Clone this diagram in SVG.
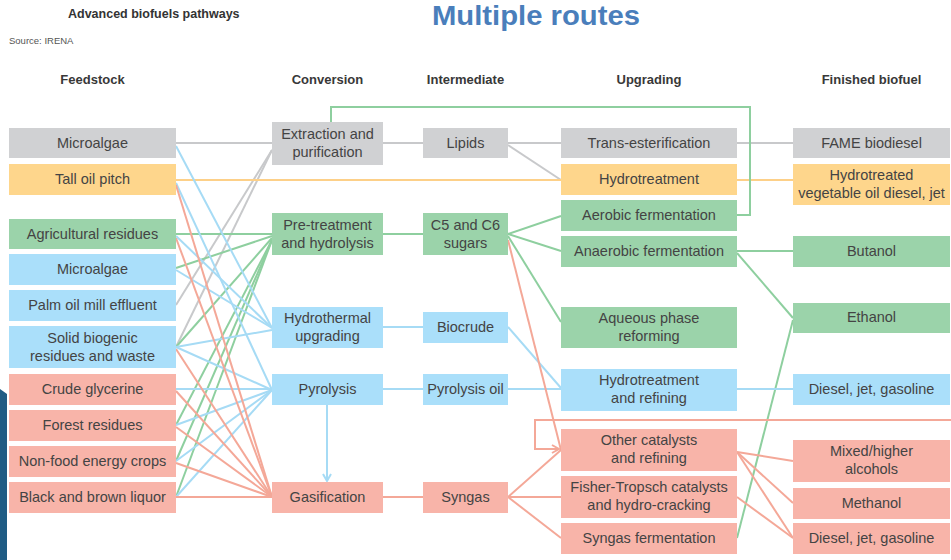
<svg xmlns="http://www.w3.org/2000/svg" width="951" height="560" viewBox="0 0 951 560">
<defs>
<style>
.bg{fill:#ffffff}
.g{fill:#d0d1d3}.o{fill:#fed68c}.n{fill:#9bd3aa}.b{fill:#aadffa}.p{fill:#f8b4a9}
.t{font-family:"Liberation Sans",Arial,sans-serif;font-size:14.5px;fill:#444444;text-anchor:middle}
.h{font-family:"Liberation Sans",Arial,sans-serif;font-size:13px;font-weight:bold;fill:#383838;text-anchor:middle}
#connectors path{fill:none;stroke-width:2}
.cg{stroke:#c8c9cb}.co{stroke:#fdd088}.cn{stroke:#8ecf9f}.cb{stroke:#a6dbf5}.cp{stroke:#f4a898}
</style>
<marker id="ab" markerWidth="10" markerHeight="10" refX="8" refY="5" orient="auto" markerUnits="userSpaceOnUse">
<path d="M1,1 L8,5 L1,9" fill="none" stroke="#a6dbf5" stroke-width="2"/>
</marker>
<marker id="ap" markerWidth="10" markerHeight="10" refX="8" refY="5" orient="auto" markerUnits="userSpaceOnUse">
<path d="M1,1 L8,5 L1,9" fill="none" stroke="#f4a898" stroke-width="2"/>
</marker>
</defs>
<rect class="bg" x="0" y="0" width="951" height="560"/>
<path d="M0,389 L7,394 V560 H0 Z" fill="#1f5c84"/>
<text x="68" y="18" style="font-family:'Liberation Sans',Arial,sans-serif;font-size:12.5px;font-weight:bold;fill:#333">Advanced biofuels pathways</text>
<text x="9" y="44" style="font-family:'Liberation Sans',Arial,sans-serif;font-size:9.5px;fill:#555">Source: IRENA</text>
<text x="432" y="25" textLength="208" lengthAdjust="spacingAndGlyphs" style="font-family:'Liberation Sans',Arial,sans-serif;font-size:27px;font-weight:bold;fill:#4a7ebb">Multiple routes</text>
<g id="headers">
<text class="h" x="92.5" y="84">Feedstock</text>
<text class="h" x="327.5" y="84">Conversion</text>
<text class="h" x="465.5" y="84">Intermediate</text>
<text class="h" x="649" y="84">Upgrading</text>
<text class="h" x="871.5" y="84">Finished biofuel</text>
</g>
<g id="connectors">
<path class="cg" d="M176,143 H272"/>
<path class="cg" d="M176,305 L272,150"/>
<path class="cg" d="M176,347 L272,150"/>
<path class="cg" d="M383,143 H423"/>
<path class="cg" d="M508,143 H561"/>
<path class="cg" d="M508,145 L561,180"/>
<path class="cg" d="M737,143 H793"/>
<path class="co" d="M176,180 H561"/>
<path class="co" d="M737,180 H793"/>
<path class="cn" d="M176,234 H272"/>
<path class="cn" d="M176,268 L272,236"/>
<path class="cn" d="M176,347 L272,238"/>
<path class="cn" d="M176,425 L272,240"/>
<path class="cn" d="M176,461 L272,240"/>
<path class="cn" d="M176,497 L272,240"/>
<path class="cn" d="M383,234 H423"/>
<path class="cn" d="M508,234 L561,216"/>
<path class="cn" d="M508,234 L561,251"/>
<path class="cn" d="M508,236 L561,322"/>
<path class="cn" d="M737,251 H793"/>
<path class="cn" d="M737,253 L793,318"/>
<path class="cn" d="M737,538 L793,320"/>
<path class="cn" d="M737,215 H750 V107 H331 V122"/>
<path class="cb" d="M176,146 L272,328"/>
<path class="cb" d="M176,183 L272,390"/>
<path class="cb" d="M176,236 L272,328"/>
<path class="cb" d="M176,270 L272,328"/>
<path class="cb" d="M176,347 L272,330"/>
<path class="cb" d="M176,347 L272,390"/>
<path class="cb" d="M176,389 H272"/>
<path class="cb" d="M176,425 L272,390"/>
<path class="cb" d="M176,461 L272,390"/>
<path class="cb" d="M176,497 L272,390"/>
<path class="cb" d="M383,327 H423"/>
<path class="cb" d="M383,389 H423"/>
<path class="cb" d="M327,405 V481" marker-end="url(#ab)"/>
<path class="cb" d="M508,327 L561,388"/>
<path class="cb" d="M508,389 H561"/>
<path class="cb" d="M737,389 H793"/>
<path class="cp" d="M176,185 L272,497"/>
<path class="cp" d="M176,238 L272,497"/>
<path class="cp" d="M176,349 L272,497"/>
<path class="cp" d="M176,391 L272,497"/>
<path class="cp" d="M176,427 L272,497"/>
<path class="cp" d="M176,463 L272,497"/>
<path class="cp" d="M176,497 H272"/>
<path class="cp" d="M383,497 H423"/>
<path class="cp" d="M508,240 L561,450"/>
<path class="cp" d="M508,497 L561,450"/>
<path class="cp" d="M508,497 H561"/>
<path class="cp" d="M508,497 L561,538"/>
<path class="cp" d="M951,420 H535 V449 H559" marker-end="url(#ap)"/>
<path class="cp" d="M737,452 L793,461"/>
<path class="cp" d="M737,452 L793,503"/>
<path class="cp" d="M737,452 L793,538"/>
<path class="cp" d="M737,497 L793,538"/>
</g>
<g id="f-microalgae-g"><rect class="g" x="9" y="128" width="167" height="30"/><text class="t" x="92.5" y="148">Microalgae</text></g>
<g id="f-talloil"><rect class="o" x="9" y="164" width="167" height="31"/><text class="t" x="92.5" y="184">Tall oil pitch</text></g>
<g id="f-agri"><rect class="n" x="9" y="219" width="167" height="30"/><text class="t" x="92.5" y="239">Agricultural residues</text></g>
<g id="f-microalgae-b"><rect class="b" x="9" y="254" width="167" height="31"/><text class="t" x="92.5" y="274">Microalgae</text></g>
<g id="f-palm"><rect class="b" x="9" y="290" width="167" height="31"/><text class="t" x="92.5" y="310">Palm oil mill effluent</text></g>
<g id="f-solid"><rect class="b" x="9" y="326" width="167" height="42"/><text class="t" x="92.5" y="343">Solid biogenic</text><text class="t" x="92.5" y="361">residues and waste</text></g>
<g id="f-glycerine"><rect class="p" x="9" y="374" width="167" height="31"/><text class="t" x="92.5" y="394">Crude glycerine</text></g>
<g id="f-forest"><rect class="p" x="9" y="410" width="167" height="31"/><text class="t" x="92.5" y="430">Forest residues</text></g>
<g id="f-nonfood"><rect class="p" x="9" y="446" width="167" height="31"/><text class="t" x="92.5" y="466">Non-food energy crops</text></g>
<g id="f-liquor"><rect class="p" x="9" y="482" width="167" height="31"/><text class="t" x="92.5" y="502">Black and brown liquor</text></g>
<g id="c-extraction"><rect class="g" x="272" y="122" width="111" height="43"/><text class="t" x="327.5" y="139">Extraction and</text><text class="t" x="327.5" y="157">purification</text></g>
<g id="c-pretreatment"><rect class="n" x="272" y="213" width="111" height="42"/><text class="t" x="327.5" y="230">Pre-treatment</text><text class="t" x="327.5" y="248">and hydrolysis</text></g>
<g id="c-hydrothermal"><rect class="b" x="272" y="307" width="111" height="41"/><text class="t" x="327.5" y="323">Hydrothermal</text><text class="t" x="327.5" y="341">upgrading</text></g>
<g id="c-pyrolysis"><rect class="b" x="272" y="374" width="111" height="31"/><text class="t" x="327.5" y="394">Pyrolysis</text></g>
<g id="c-gasification"><rect class="p" x="272" y="482" width="111" height="31"/><text class="t" x="327.5" y="502">Gasification</text></g>
<g id="i-lipids"><rect class="g" x="423" y="128" width="85" height="30"/><text class="t" x="465.5" y="148">Lipids</text></g>
<g id="i-sugars"><rect class="n" x="423" y="213" width="85" height="42"/><text class="t" x="465.5" y="230">C5 and C6</text><text class="t" x="465.5" y="248">sugars</text></g>
<g id="i-biocrude"><rect class="b" x="423" y="312" width="85" height="31"/><text class="t" x="465.5" y="332">Biocrude</text></g>
<g id="i-pyrolysisoil"><rect class="b" x="423" y="374" width="85" height="31"/><text class="t" x="465.5" y="394">Pyrolysis oil</text></g>
<g id="i-syngas"><rect class="p" x="423" y="482" width="85" height="31"/><text class="t" x="465.5" y="502">Syngas</text></g>
<g id="u-trans"><rect class="g" x="561" y="128" width="176" height="30"/><text class="t" x="649" y="148">Trans-esterification</text></g>
<g id="u-hydrotreatment"><rect class="o" x="561" y="164" width="176" height="31"/><text class="t" x="649" y="184">Hydrotreatment</text></g>
<g id="u-aerobic"><rect class="n" x="561" y="200" width="176" height="31"/><text class="t" x="649" y="220">Aerobic fermentation</text></g>
<g id="u-anaerobic"><rect class="n" x="561" y="236" width="176" height="31"/><text class="t" x="649" y="256">Anaerobic fermentation</text></g>
<g id="u-aqueous"><rect class="n" x="561" y="307" width="176" height="41"/><text class="t" x="649" y="323">Aqueous phase</text><text class="t" x="649" y="341">reforming</text></g>
<g id="u-hydrorefining"><rect class="b" x="561" y="369" width="176" height="42"/><text class="t" x="649" y="385">Hydrotreatment</text><text class="t" x="649" y="403">and refining</text></g>
<g id="u-othercat"><rect class="p" x="561" y="429" width="176" height="42"/><text class="t" x="649" y="445">Other catalysts</text><text class="t" x="649" y="463">and refining</text></g>
<g id="u-ft"><rect class="p" x="561" y="476" width="176" height="42"/><text class="t" x="649" y="492">Fisher-Tropsch catalysts</text><text class="t" x="649" y="510">and hydro-cracking</text></g>
<g id="u-syngasferm"><rect class="p" x="561" y="523" width="176" height="31"/><text class="t" x="649" y="543">Syngas fermentation</text></g>
<g id="p-fame"><rect class="g" x="793" y="128" width="157" height="30"/><text class="t" x="871.5" y="148">FAME biodiesel</text></g>
<g id="p-hvo"><rect class="o" x="793" y="164" width="157" height="41"/><text class="t" x="871.5" y="180">Hydrotreated</text><text class="t" x="871.5" y="198">vegetable oil diesel, jet</text></g>
<g id="p-butanol"><rect class="n" x="793" y="236" width="157" height="31"/><text class="t" x="871.5" y="256">Butanol</text></g>
<g id="p-ethanol"><rect class="n" x="793" y="303" width="157" height="30"/><text class="t" x="871.5" y="322">Ethanol</text></g>
<g id="p-djg-b"><rect class="b" x="793" y="374" width="157" height="31"/><text class="t" x="871.5" y="394">Diesel, jet, gasoline</text></g>
<g id="p-mixed"><rect class="p" x="793" y="440" width="157" height="42"/><text class="t" x="871.5" y="456">Mixed/higher</text><text class="t" x="871.5" y="474">alcohols</text></g>
<g id="p-methanol"><rect class="p" x="793" y="488" width="157" height="31"/><text class="t" x="871.5" y="508">Methanol</text></g>
<g id="p-djg-p"><rect class="p" x="793" y="523" width="157" height="31"/><text class="t" x="871.5" y="543">Diesel, jet, gasoline</text></g>
</svg>
